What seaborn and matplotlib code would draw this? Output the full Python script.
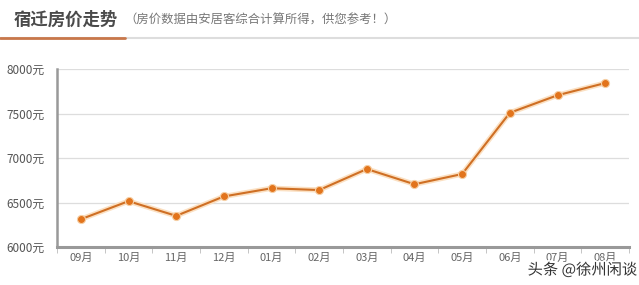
import matplotlib
matplotlib.use("Agg")
import matplotlib.pyplot as plt
import matplotlib.patheffects as pe
import seaborn as sns
import pandas as pd
import numpy as np

months = ["09月", "10月", "11月", "12月", "01月", "02月", "03月", "04月", "05月", "06月", "07月", "08月"]
prices = [6312, 6515, 6350, 6568, 6660, 6640, 6876, 6705, 6820, 7508, 7705, 7842]
y_ticks = [6000, 6500, 7000, 7500, 8000]
y_tick_labels = ["6000元", "6500元", "7000元", "7500元", "8000元"]
title = "宿迁房价走势"
subtitle = "（房价数据由安居客综合计算所得，供您参考！）"
watermark = "头条 @徐州闲谈"

sns.set_theme(style="white")
plt.rcParams['font.family'] = ['Noto Sans CJK SC', 'DejaVu Sans']

df = pd.DataFrame({"month": months, "price": prices})

fig = plt.figure(figsize=(6.39, 2.85), dpi=100)
ax = fig.add_axes([57/639, 1-247/285, 572/639, 178/285])

orange = "#E2741C"
# soft glow under the line
sns.lineplot(data=df, x="month", y="price", ax=ax, color="#FBE0C2", lw=3.8, sort=False, zorder=2)
sns.lineplot(data=df, x="month", y="price", ax=ax, color="#CF6F24", lw=1.5, sort=False,
             marker="o", markersize=5.8, markerfacecolor=orange, markeredgecolor="#F6CFA4",
             markeredgewidth=0.8, zorder=3)

ax.set_xlim(-0.5, len(months) - 0.5)
ax.set_ylim(6000, 8000)
ax.set_yticks(y_ticks)
ax.set_yticklabels(y_tick_labels)
ax.set_xticks(range(len(months)))
ax.set_xticklabels(months)
ax.set_xlabel("")
ax.set_ylabel("")
ax.grid(axis="y", color="#DDDDDD", lw=0.9)
ax.grid(axis="x", visible=False)
for s in ["top", "right"]:
    ax.spines[s].set_visible(False)
ax.spines["left"].set_color("#999999")
ax.spines["left"].set_linewidth(1.8)
ax.spines["bottom"].set_color("#999999")
ax.spines["bottom"].set_linewidth(2.2)
ax.tick_params(axis="y", length=0, pad=9, labelsize=8.5, labelcolor="#555555")
ax.tick_params(axis="x", length=0, pad=4, labelsize=8, labelcolor="#666666")
# band boundary ticks
ax.set_xticks(np.arange(-0.5, len(months), 1.0), minor=True)
ax.tick_params(axis="x", which="minor", length=4, width=0.6, color="#BBBBBB", direction="out", bottom=True)

fig.text(14/639, 1-20/285, title, fontsize=12.5, fontweight="bold", color="#4a4a4a", va="center", ha="left")
fig.text(124/639, 1-20/285, subtitle, fontsize=8.9, color="#777777", va="center", ha="left")
# header underline
fig.add_artist(plt.Line2D([0, 1], [1-38/285, 1-38/285], color="#DDDDDD", lw=1.5, transform=fig.transFigure))
fig.add_artist(plt.Line2D([0, 125/639], [1-38/285, 1-38/285], color="#C8774A", lw=2.0, transform=fig.transFigure))

fig.text(637/639, 1-270/285, watermark, fontsize=11, color="#333333", va="center", ha="right",
         path_effects=[pe.withStroke(linewidth=2.5, foreground="white")])

fig.savefig("out.png", dpi=100, facecolor="white")
